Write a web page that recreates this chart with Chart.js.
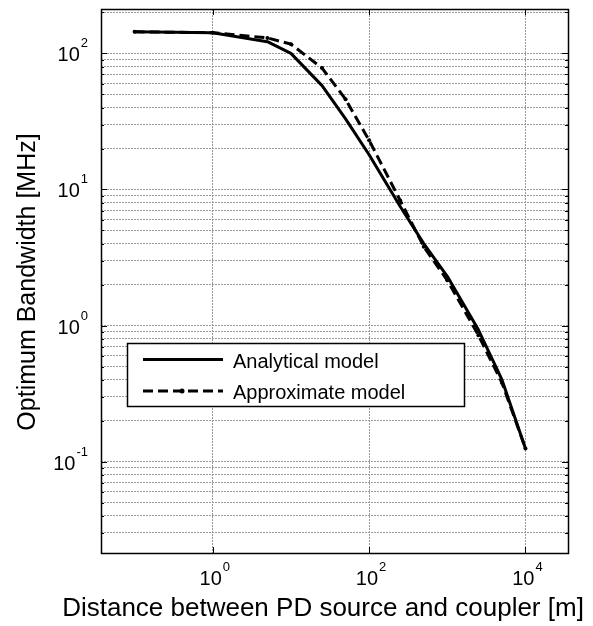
<!DOCTYPE html>
<html><head><meta charset="utf-8">
<script src="https://cdn.jsdelivr.net/npm/chart.js@4/dist/chart.umd.min.js"></script>
<style>html,body{margin:0;padding:0;background:#fff;}canvas{display:block;}</style>
</head><body>
<canvas id="c" width="593" height="626"></canvas>
<script>
// ---- data ----
const distance = [0.1, 1, 5, 10, 25, 50, 100, 250, 500, 1000, 2500, 5000, 10000];
const analytical = [144, 142, 122, 100, 58, 33, 18, 7.5, 4.0, 2.3, 0.93, 0.40, 0.125];
const approximate = [144, 142, 130, 117, 78, 46, 23, 8.3, 3.8, 2.15, 0.85, 0.38, 0.125];
const seriesNames = ['Analytical model', 'Approximate model'];
const xTickValues = [1, 100, 10000];
const yLabelValues = [0.1, 1, 10, 100];
const yGridValues = [0.03, 0.04, 0.05, 0.06, 0.07, 0.08, 0.09,
  0.1, 0.2, 0.3, 0.4, 0.5, 0.6, 0.7, 0.8, 0.9,
  1, 2, 3, 4, 5, 6, 7, 8, 9,
  10, 20, 30, 40, 50, 60, 70, 80, 90,
  100, 200];
const xTitle = 'Distance between PD source and coupler [m]';
const yTitle = 'Optimum Bandwidth [MHz]';
const xRange = [0.0372, 35000];
const yRange = [0.0213, 212];

const FONT = '"Liberation Sans", Arial, sans-serif';

function pow10Label(ctx, v, x, y, align) {
  const e = Math.round(Math.log10(v));
  ctx.font = '20px ' + FONT;
  const wb = ctx.measureText('10').width;
  ctx.font = '13px ' + FONT;
  const we = ctx.measureText(String(e)).width;
  let left;
  if (align === 'right') left = x - wb - we - 1;
  else left = x - (wb + we + 1) / 2;
  ctx.textAlign = 'left';
  ctx.textBaseline = 'alphabetic';
  ctx.font = '20px ' + FONT;
  ctx.fillText('10', left, y);
  ctx.font = '13px ' + FONT;
  ctx.fillText(String(e), left + wb + 1, y - 14);
}

const decor = {
  id: 'decor',
  afterDraw(chart) {
    const {ctx, chartArea: a, scales: {x, y}} = chart;
    ctx.save();
    ctx.strokeStyle = '#000';
    ctx.lineWidth = 1;
    ctx.beginPath();
    yGridValues.forEach(v => {
      const py = Math.round(y.getPixelForValue(v)) + 0.5;
      const len = yLabelValues.includes(v) ? 6 : 3;
      ctx.moveTo(a.left, py); ctx.lineTo(a.left + len, py);
      ctx.moveTo(a.right, py); ctx.lineTo(a.right - len, py);
    });
    xTickValues.forEach(v => {
      const px = Math.round(x.getPixelForValue(v)) + 0.5;
      ctx.moveTo(px, a.bottom); ctx.lineTo(px, a.bottom - 6);
      ctx.moveTo(px, a.top); ctx.lineTo(px, a.top + 6);
    });
    ctx.stroke();
    ctx.lineWidth = 1.5;
    ctx.strokeRect(Math.round(a.left) + 0.5, Math.round(a.top) + 0.5,
      Math.round(a.right - a.left), Math.round(a.bottom - a.top));

    // tick labels
    ctx.fillStyle = '#000';
    yLabelValues.forEach(v => {
      const py = y.getPixelForValue(v);
      pow10Label(ctx, v, 88, py + 8, 'right');
    });
    xTickValues.forEach(v => {
      const px = x.getPixelForValue(v);
      pow10Label(ctx, v, px + 2, 585, 'center');
    });

    // axis titles
    ctx.font = '26px ' + FONT;
    ctx.textAlign = 'center';
    ctx.textBaseline = 'alphabetic';
    ctx.fillText(xTitle, 323, 616);
    ctx.font = '25px ' + FONT;
    ctx.save();
    ctx.translate(35, (a.top + a.bottom) / 2 + 1);
    ctx.rotate(-Math.PI / 2);
    ctx.fillText(yTitle, 0, 0);
    ctx.restore();

    // legend
    const L = {x: 127, y: 343, w: 337, h: 63};
    ctx.fillStyle = '#fff';
    ctx.fillRect(L.x, L.y, L.w, L.h);
    ctx.strokeStyle = '#000';
    ctx.lineWidth = 1.5;
    ctx.strokeRect(L.x + 0.5, L.y + 0.5, L.w, L.h);
    const ds = chart.data.datasets;
    const rows = [359.5, 391];
    ds.forEach((d, i) => {
      ctx.strokeStyle = '#000';
      ctx.lineWidth = 3;
      ctx.setLineDash(d.borderDash || []);
      ctx.beginPath();
      ctx.moveTo(143, rows[i]);
      ctx.lineTo(223, rows[i]);
      ctx.stroke();
      ctx.setLineDash([]);
      if (d.pointRadius > 0) {
        ctx.fillStyle = '#000';
        ctx.beginPath();
        ctx.arc(182, rows[i], 2.5, 0, Math.PI * 2);
        ctx.fill();
      }
      ctx.fillStyle = '#000';
      ctx.font = '20px ' + FONT;
      ctx.textAlign = 'left';
      ctx.textBaseline = 'alphabetic';
      ctx.fillText(d.label, 233, rows[i] + 8);
    });
    ctx.restore();
  }
};

const gridCommon = {color: '#9a9a9a', lineWidth: 1, drawTicks: false};

new Chart(document.getElementById('c'), {
  type: 'line',
  data: {
    datasets: [
      {
        label: seriesNames[0],
        data: distance.map((d, i) => ({x: d, y: analytical[i]})),
        borderColor: '#000', backgroundColor: '#000',
        borderWidth: 3, pointRadius: 0, tension: 0,
        borderJoinStyle: 'round', borderCapStyle: 'round'
      },
      {
        label: seriesNames[1],
        data: distance.map((d, i) => ({x: d, y: approximate[i]})),
        borderColor: '#000', backgroundColor: '#000',
        borderWidth: 3, borderDash: [10, 5], pointRadius: 2, pointHoverRadius: 2,
        pointBorderWidth: 0, tension: 0
      }
    ]
  },
  options: {
    responsive: false,
    animation: false,
    events: [],
    layout: {padding: {left: 101, top: 9, right: 25, bottom: 73}},
    plugins: {legend: {display: false}, tooltip: {enabled: false}, title: {display: false}},
    scales: {
      x: {
        type: 'logarithmic', min: xRange[0], max: xRange[1],
        afterBuildTicks: s => { s.ticks = xTickValues.map(v => ({value: v})); },
        ticks: {display: false},
        grid: gridCommon,
        border: {display: false, dash: [2, 1]},
        title: {display: false}
      },
      y: {
        type: 'logarithmic', min: yRange[0], max: yRange[1],
        afterBuildTicks: s => { s.ticks = yGridValues.map(v => ({value: v})); },
        ticks: {display: false},
        grid: gridCommon,
        border: {display: false, dash: [2, 1]},
        title: {display: false}
      }
    }
  },
  plugins: [decor]
});
</script>
</body></html>
